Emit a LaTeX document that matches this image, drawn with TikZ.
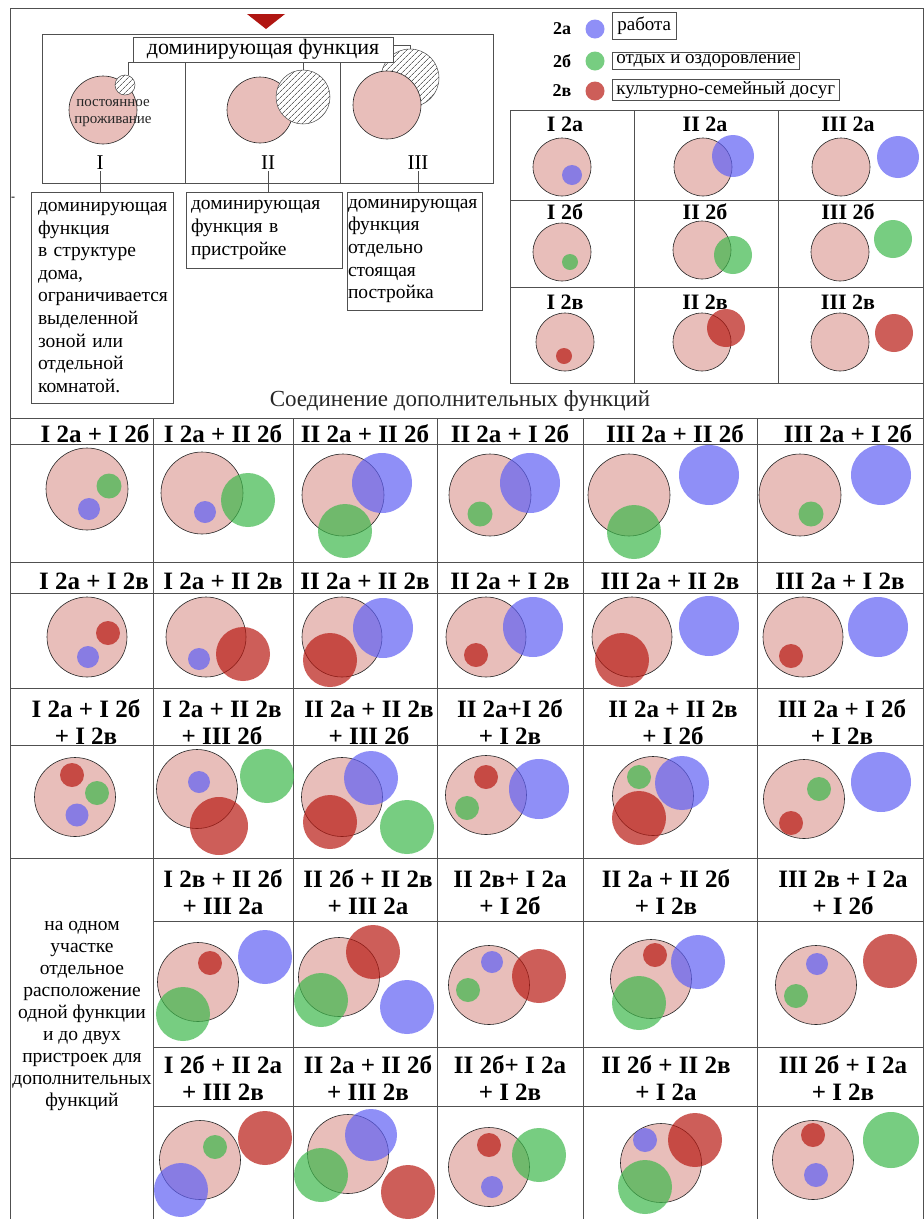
\documentclass[tikz,border=0pt]{standalone}
\usepackage{fontspec}
\setmainfont{Liberation Serif}
\usetikzlibrary{patterns.meta}
\definecolor{pinkc}{RGB}{232,190,186}
\definecolor{bluec}{RGB}{96,96,245}
\definecolor{greenc}{RGB}{62,184,76}
\definecolor{redc}{RGB}{184,26,19}
\definecolor{linec}{RGB}{80,80,80}
\definecolor{trired}{RGB}{176,22,18}
\newcommand\cPink[3]{\filldraw[pk] (#1,#2) circle[radius=#3pt];}
\newcommand\ePink[2]{\filldraw[pk] (#1,#2) circle[x radius=40.5pt,y radius=39.5pt];}
\newcommand\cBlue[3]{\fill[bl] (#1,#2) circle[radius=#3pt];}
\newcommand\cGreen[3]{\fill[gr] (#1,#2) circle[radius=#3pt];}
\newcommand\cRed[3]{\fill[rd] (#1,#2) circle[radius=#3pt];}
\newcommand\hOne[4]{\node[hd,anchor=base] (#1) at (#2,#3) {#4};}
\newcommand\hTwo[5]{\node[hd,anchor=base] (#1a) at (#2,#3) {#4};\node[hd,anchor=base] (#1b) at (#2,#3+27) {#5};}
\begin{document}
\begin{tikzpicture}[x=1pt,y=-1pt,
  pk/.style={fill=pinkc, draw=black!85, line width=0.6pt},
  bl/.style={fill=bluec, fill opacity=0.7},
  gr/.style={fill=greenc, fill opacity=0.7},
  rd/.style={fill=redc, fill opacity=0.7},
  tl/.style={draw=linec, line width=0.7pt},
  bx/.style={draw=linec, line width=0.7pt},
  hd/.style={font=\fontsize{25}{27}\selectfont\bfseries, inner sep=0pt},
  hr/.style={font=\fontsize{22}{24}\selectfont\bfseries, inner sep=0pt},
  txt/.style={font=\fontsize{19.5}{22.6}\selectfont, execute at begin node={\hyphenpenalty=10000\exhyphenpenalty=10000}},
  lg/.style={bx, anchor=west, inner xsep=4pt, inner ysep=2pt, font=\fontsize{19}{21}\selectfont},
  pknode/.style={circle, pk, inner sep=0pt},
  hatch/.style={circle, draw=gray!60!black, line width=0.5pt, inner sep=0pt, preaction={fill=white},
     pattern={Lines[angle=45,distance=4pt,line width=0.7pt]}, pattern color=gray!80!black}
]
\useasboundingbox (0,0) rectangle (924,1219);
\fill[white] (0,0) rectangle (924,1219);

% outer frame
\draw[tl] (10,8) -- (923,8);
\draw[tl] (10,8) -- (10,1219);
\draw[tl] (923,8) -- (923,1219);

% red triangle
\fill[trired] (247,14) -- (285,14) -- (266,29) -- cycle;

% ===== top-left scheme =====
\node[bx, minimum width=451pt, minimum height=149pt, inner sep=0pt] (frameTL) at (267.5,108.5) {};
\draw[bx] (185,62) -- (185,183);
\draw[bx] (340,62) -- (340,183);

% I
\node[pknode, minimum size=68pt] (pinkI) at (103,110) {};
\node[hatch, minimum size=20pt] (hatchI) at (125,85) {};
\node[align=center, inner sep=0pt, text=black!85, font=\fontsize{15}{17}\selectfont] (perm) at (113,113) {постоянное\\проживание};
% II
\node[pknode, minimum size=66pt] (pinkII) at (260,110) {};
\node[hatch, minimum size=54pt] (hatchII) at (303,97) {};
% III
\node[hatch, minimum size=58pt] (hatchIII) at (410,78) {};
\node[pknode, minimum size=68pt] (pinkIII) at (387,105) {};

\node[bx, fill=white, minimum width=260pt, minimum height=25pt, inner sep=0pt, font=\fontsize{22}{24}\selectfont] (title) at (263,49.5) {доминирующая функция};
\draw[bx] (title.south west) -| ([xshift=3pt]hatchI.north);
\draw[bx] (hatchII.north |- title.south) -- (hatchII.north);
\draw[bx] ([yshift=4.5pt]title.east) -| (hatchIII.north);

\node[font=\fontsize{21}{23}\selectfont, inner sep=1pt] (nI) at (100,163) {I};
\node[font=\fontsize{21}{23}\selectfont, inner sep=1pt] (nII) at (268,163) {II};
\node[font=\fontsize{21}{23}\selectfont, inner sep=1pt] (nIII) at (418,163) {III};

\node[bx, txt, minimum width=142pt, minimum height=211pt, text width=128pt, inner xsep=7pt, align=left] (box1) at (102,297.5)
 {доминирующая\\функция\\в структуре\\дома,\\ограничивается\\выделенной\\зоной или\\отдельной\\комнатой.};
\node[bx, txt, minimum width=156pt, minimum height=76pt, text width=146pt, inner xsep=5pt, align=left] (box2) at (264,230)
 {доминирующая\\функция в\\пристройке};
\node[bx, txt, minimum width=135pt, minimum height=118pt, text width=133pt, inner xsep=1pt, align=left] (box3) at (414.5,251)
 {доминирующая\\функция\\отдельно\\стоящая\\постройка};
\draw[bx] (nI.south) -- (nI.south |- box1.north);
\draw[bx] (nII.south) -- (nII.south |- box2.north);
\draw[bx] (nIII.south) -- (nIII.south |- box3.north);
\node[font=\fontsize{12}{14}\selectfont, inner sep=0pt] (dash) at (13,199) {-};

% ===== legend =====
\node[font=\fontsize{18}{20}\selectfont\bfseries] (k2a) at (562,29) {2а};
\node[font=\fontsize{18}{20}\selectfont\bfseries] (k2b) at (562,61) {2б};
\node[font=\fontsize{18}{20}\selectfont\bfseries] (k2v) at (562,91) {2в};
\cBlue{595}{29}{9.5}
\cGreen{595}{61}{9.5}
\cRed{595}{91}{9.5}
\node[lg, inner xsep=5pt, inner ysep=5pt] (l2a) at (612,26) {работа};
\node[lg] (l2b) at (612,61) {отдых и оздоровление};
\node[lg] (l2v) at (612,90) {культурно-семейный досуг};

% ===== right table =====
\draw[tl] (510,110) rectangle (923,383);
\draw[tl] (634,110) -- (634,383);
\draw[tl] (778,110) -- (778,383);
\draw[tl] (510,200) -- (923,200);
\draw[tl] (510,287) -- (923,287);
\node[hr] (r11) at (565,124) {I 2а};
\node[hr] (r12) at (705,124) {II 2а};
\node[hr] (r13) at (848,124) {III 2а};
\node[hr] (r21) at (565,212) {I 2б};
\node[hr] (r22) at (705,212) {II 2б};
\node[hr] (r23) at (848,212) {III 2б};
\node[hr] (r31) at (565,302) {I 2в};
\node[hr] (r32) at (705,302) {II 2в};
\node[hr] (r33) at (848,302) {III 2в};
\cPink{562}{167}{29} \cBlue{572}{175}{10}
\cPink{703}{167}{29} \cBlue{733}{156}{21}
\cPink{841}{167}{29} \cBlue{898}{157}{21}
\cPink{562}{252}{29} \cGreen{570}{262}{8}
\cPink{702}{250}{29} \cGreen{733}{255}{19}
\cPink{840}{252}{29} \cGreen{893}{239}{19}
\cPink{565}{342}{29} \cRed{564}{356}{8}
\cPink{702}{342}{29} \cRed{726}{328}{19}
\cPink{840}{342}{29} \cRed{894}{333}{19}

\node[font=\fontsize{23}{25}\selectfont, text=black!85] (subtitle) at (460,401) {Соединение дополнительных функций};

% ===== big table lines =====
\foreach \yy in {418,444,562,593,688,745,858} \draw[tl] (10,\yy) -- (923,\yy);
\foreach \yy in {921,1047,1106} \draw[tl] (153,\yy) -- (923,\yy);
\foreach \xx in {153,293,437,583,757} \draw[tl] (\xx,418) -- (\xx,1219);

% headers
\hOne{hA1}{95}{442}{I 2а + I 2б}
\hOne{hA2}{223}{442}{I 2а + II 2б}
\hOne{hA3}{365}{442}{II 2а + II 2б}
\hOne{hA4}{510}{442}{II 2а + I 2б}
\hOne{hA5}{675}{442}{III 2а + II 2б}
\hOne{hA6}{848}{442}{III 2а + I 2б}
\hOne{hB1}{94}{589}{I 2а + I 2в}
\hOne{hB2}{223}{589}{I 2а + II 2в}
\hOne{hB3}{365}{589}{II 2а + II 2в}
\hOne{hB4}{510}{589}{II 2а + I 2в}
\hOne{hB5}{670}{589}{III 2а + II 2в}
\hOne{hB6}{840}{589}{III 2а + I 2в}
\hTwo{hC1}{86}{717}{I 2а + I 2б}{+ I 2в}
\hTwo{hC2}{222}{717}{I 2а + II 2в}{+ III 2б}
\hTwo{hC3}{369}{717}{II 2а + II 2в}{+ III 2б}
\hTwo{hC4}{510}{717}{II 2а+I 2б}{+ I 2в}
\hTwo{hC5}{673}{717}{II 2а + II 2в}{+ I 2б}
\hTwo{hC6}{842}{717}{III 2а + I 2б}{+ I 2в}
\hTwo{hD1}{223}{887}{I 2в + II 2б}{+ III 2а}
\hTwo{hD2}{368}{887}{II 2б + II 2в}{+ III 2а}
\hTwo{hD3}{510}{887}{II 2в+ I 2а}{+ I 2б}
\hTwo{hD4}{666}{887}{II 2а + II 2б}{+ I 2в}
\hTwo{hD5}{843}{887}{III 2в + I 2а}{+ I 2б}
\hTwo{hE1}{223}{1073}{I 2б + II 2а}{+ III 2в}
\hTwo{hE2}{368}{1073}{II 2а + II 2б}{+ III 2в}
\hTwo{hE3}{510}{1073}{II 2б+ I 2а}{+ I 2в}
\hTwo{hE4}{666}{1073}{II 2б + II 2в}{+ I 2а}
\hTwo{hE5}{843}{1073}{III 2б + I 2а}{+ I 2в}

\node[align=center, inner sep=0pt, font=\fontsize{19.5}{22}\selectfont] (leftnote) at (82,1016)
 {на одном\\участке\\отдельное\\расположение\\одной функции\\и до двух\\пристроек для\\дополнительных\\функций};

% ===== row A =====
\cPink{87}{489}{41} \cGreen{109}{486}{12.5} \cBlue{89}{509}{11}
\cPink{202}{493}{41} \cGreen{248}{500}{27} \cBlue{205}{512}{11}
\cPink{343}{495}{41} \cBlue{382}{483}{30} \cGreen{345}{531}{27}
\cPink{490}{495}{41} \cBlue{530}{483}{30} \cGreen{480}{514}{12.5}
\cPink{629}{495}{41} \cBlue{709}{475}{30} \cGreen{634}{532}{27}
\cPink{800}{495}{41} \cBlue{881}{475}{30} \cGreen{811}{514}{12.5}
% ===== row B =====
\cPink{87}{637}{40} \cRed{108}{633}{12} \cBlue{88}{657}{11}
\cPink{206}{637}{40} \cRed{243}{654}{27} \cBlue{199}{659}{11}
\cPink{342}{637}{40} \cBlue{383}{628}{30} \cRed{330}{660}{27}
\cPink{486}{637}{40} \cBlue{533}{627}{30} \cRed{476}{655}{12}
\cPink{632}{637}{40} \cBlue{709}{626}{30} \cRed{622}{660}{27}
\cPink{803}{637}{40} \cBlue{878}{627}{30} \cRed{791}{656}{12}
% ===== row C =====
\ePink{75}{797} \cRed{72}{775}{12} \cGreen{97}{793}{12} \cBlue{77}{815}{11.5}
\ePink{197}{789} \cBlue{199}{782}{11} \cRed{219}{826}{29} \cGreen{267}{776}{27}
\ePink{342}{797} \cBlue{371}{778}{27} \cRed{330}{822}{27} \cGreen{407}{827}{27}
\ePink{486}{795} \cBlue{539}{789}{30} \cRed{486}{777}{12} \cGreen{467}{808}{12}
\ePink{653}{796} \cBlue{682}{783}{27} \cRed{639}{818}{27} \cGreen{639}{777}{12}
\ePink{804}{799} \cBlue{881}{782}{30} \cGreen{819}{789}{12} \cRed{791}{823}{12}
% ===== row D =====
\ePink{198}{982} \cRed{210}{963}{12} \cGreen{183}{1014}{27} \cBlue{265}{957}{27}
\ePink{339}{977} \cRed{373}{952}{27} \cGreen{321}{1000}{27} \cBlue{407}{1007}{27}
\ePink{489}{985} \cBlue{492}{962}{11} \cGreen{468}{990}{12} \cRed{539}{976}{27}
\ePink{651}{979} \cRed{655}{955}{12} \cBlue{698}{962}{27} \cGreen{639}{1003}{27}
\ePink{816}{985} \cBlue{817}{964}{11} \cGreen{796}{996}{12} \cRed{890}{961}{27}
% ===== row E =====
\ePink{200}{1160} \cGreen{215}{1147}{12} \cBlue{181}{1190}{27} \cRed{265}{1138}{27}
\ePink{348}{1154} \cBlue{371}{1135}{26} \cGreen{321}{1175}{27} \cRed{408}{1192}{27}
\ePink{489}{1167} \cRed{489}{1145}{12} \cBlue{492}{1187}{11} \cGreen{539}{1155}{27}
\ePink{661}{1163} \cBlue{645}{1140}{12} \cRed{695}{1140}{27} \cGreen{645}{1187}{27}
\ePink{813}{1160} \cRed{813}{1135}{12} \cBlue{816}{1175}{12} \cGreen{891}{1140}{28}
\end{tikzpicture}
\end{document}
